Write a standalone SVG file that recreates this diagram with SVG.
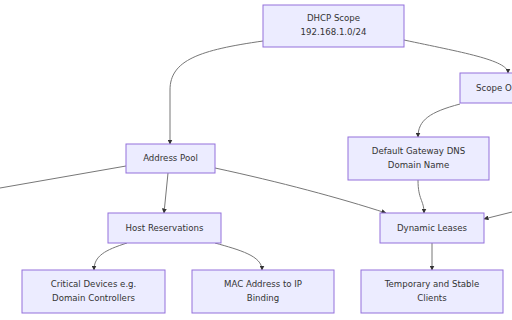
<svg xmlns="http://www.w3.org/2000/svg" width="512" height="320" viewBox="0 0 512 320">
<defs>
<marker id="arr" viewBox="0 0 10 10" refX="9" refY="5" markerWidth="5" markerHeight="5" orient="auto-start-reverse">
<path d="M0,0 L10,5 L0,10 z" fill="#333"/>
</marker>
<style>
.n rect{fill:#ECECFF;stroke:#9370DB;stroke-width:1}
.n text{font-family:"DejaVu Sans",sans-serif;font-size:8.6px;fill:#333;text-anchor:middle}
.e path{fill:none;stroke:#777;stroke-width:1}
.e path.a{marker-end:url(#arr)}
</style>
</defs>
<rect width="512" height="320" fill="#fff"/>
<g class="e">
<path class="a" d="M263,41 C200,50 170,60 170,90 L170,144"/>
<path class="a" d="M404,40 C460,52 508,60 508,73"/>
<path class="a" d="M460,104 C430,112 418,120 418,137"/>
<path class="a" d="M418,180 C418,200 424,200 424,213"/>
<path class="a" d="M215,168 C280,182 340,198 386,213"/>
<path class="a" d="M168,173 L164,213"/>
<path d="M126,166 L0,188"/>
<path class="a" d="M512,212 L484,219"/>
<path class="a" d="M127,243 C105,250 94,256 94,270"/>
<path class="a" d="M215,243 C240,250 262,256 262,270"/>
<path class="a" d="M432,243 L432,270"/>
</g>
<g id="dhcp" class="n"><rect x="263" y="5" width="141" height="42"/><text x="333.5" y="21">DHCP Scope</text><text x="333.5" y="35">192.168.1.0/24</text></g>
<g id="scopeopt" class="n"><rect x="460" y="73" width="92" height="30"/><text x="476" y="91" style="text-anchor:start">Scope Options</text></g>
<g id="gateway" class="n"><rect x="348" y="137" width="141" height="43"/><text x="418.5" y="154">Default Gateway DNS</text><text x="418.5" y="168">Domain Name</text></g>
<g id="pool" class="n"><rect x="126" y="144" width="89" height="29"/><text x="170.5" y="161">Address Pool</text></g>
<g id="hostres" class="n"><rect x="108" y="213" width="113" height="30"/><text x="164.5" y="231">Host Reservations</text></g>
<g id="dynamic" class="n"><rect x="380" y="213" width="104" height="30"/><text x="432" y="231">Dynamic Leases</text></g>
<g id="critical" class="n"><rect x="22" y="270" width="143" height="43"/><text x="93.5" y="287">Critical Devices e.g.</text><text x="93.5" y="301">Domain Controllers</text></g>
<g id="mac" class="n"><rect x="192" y="270" width="142" height="43"/><text x="263" y="287">MAC Address to IP</text><text x="263" y="301">Binding</text></g>
<g id="temp" class="n"><rect x="361" y="270" width="142" height="43"/><text x="432" y="287">Temporary and Stable</text><text x="432" y="301">Clients</text></g>
</svg>
